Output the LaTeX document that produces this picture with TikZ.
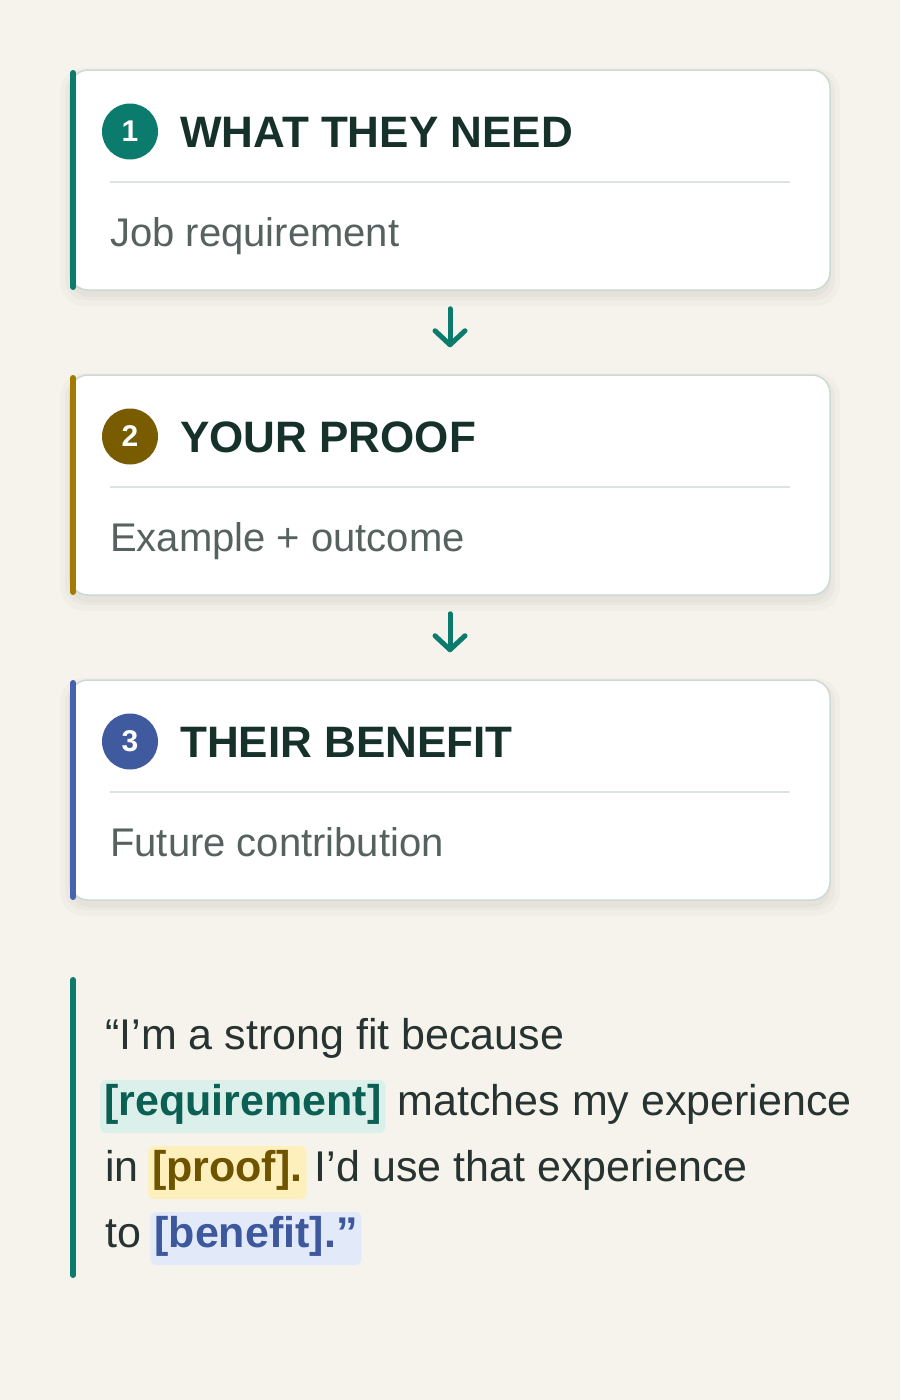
\documentclass[tikz,border=0pt]{standalone}
\usepackage{fontspec}
\setmainfont{Liberation Sans}
\usetikzlibrary{arrows.meta}
\definecolor{bgc}{HTML}{F6F3EC}
\definecolor{teal}{HTML}{0A7B6C}
\definecolor{goldbar}{HTML}{A27A04}
\definecolor{goldbadge}{HTML}{7A5C00}
\definecolor{bluebar}{HTML}{4663AD}
\definecolor{bluebadge}{HTML}{3F5A9E}
\definecolor{cardborder}{HTML}{CBDAD3}
\definecolor{divider}{HTML}{DDE3E0}
\definecolor{titlec}{HTML}{16302A}
\definecolor{bodyc}{HTML}{56625F}
\definecolor{quotec}{HTML}{263330}
\definecolor{reqfg}{HTML}{0B5F53}
\definecolor{reqbg}{HTML}{DCF0EB}
\definecolor{prooffg}{HTML}{6E5400}
\definecolor{proofbg}{HTML}{FDF0BC}
\definecolor{benfg}{HTML}{3D589D}
\definecolor{benbg}{HTML}{E2E9F8}
\tikzset{
  x=1pt,y=1pt,
  cardbox/.style={draw=cardborder,line width=1.5pt,fill=white,rounded corners=18pt,
    minimum width=760pt,minimum height=220pt,inner sep=0pt},
  shadowbox/.style={fill=black,rounded corners=20pt,minimum width=762pt,minimum height=222pt,inner sep=0pt,draw=none},
  badge/.style={circle,minimum size=56pt,inner sep=0pt,text=white,
    font=\fontsize{30}{34}\selectfont\bfseries},
  titletext/.style={anchor=base west,inner sep=0pt,text=titlec,font=\fontsize{44}{50}\selectfont\bfseries},
  bodytext/.style={anchor=base west,inner sep=0pt,text=bodyc,font=\fontsize{40}{46}\selectfont},
  quotetext/.style={anchor=base west,inner sep=0pt,text=quotec,font=\fontsize{43}{50}\selectfont},
  hl/.style={anchor=base west,rounded corners=6pt,inner xsep=4pt,inner ysep=7pt,
    text height=28pt,text depth=11pt,font=\fontsize{43}{50}\selectfont\bfseries},
  flowarrow/.style={draw=teal,line width=5pt,line cap=round,
    -{Straight Barb[length=14pt,width=30pt,round]}},
  sidebar/.style={line width=6pt,line cap=round},
}
\begin{document}
\begin{tikzpicture}
\fill[bgc] (0,0) rectangle (900,-1400);
\useasboundingbox (0,0) rectangle (900,-1400);

% shadows
\foreach \yy in {180,485,790}{
  \node[shadowbox,opacity=0.025] at (450,-\yy-6) {};
  \node[shadowbox,opacity=0.025,minimum width=770pt,minimum height=228pt] at (450,-\yy-6) {};
  \node[shadowbox,opacity=0.02,minimum width=780pt,minimum height=238pt,rounded corners=24pt] at (450,-\yy-7) {};
}

% cards
\node[cardbox] (card1) at (450,-180) {};
\node[cardbox] (card2) at (450,-485) {};
\node[cardbox] (card3) at (450,-790) {};

\draw[sidebar,teal] (73,-73) -- (73,-287);
\draw[sidebar,goldbar] (73,-378) -- (73,-592);
\draw[sidebar,bluebar] (73,-683) -- (73,-897);

% card 1
\node[badge,fill=teal] (b1) at (130,-131.5) {1};
\node[titletext] (t1) at (180,-147) {WHAT THEY NEED};
\draw[divider,line width=1.5pt] (110,-182) -- (790,-182);
\node[bodytext] (d1) at (110,-246) {Job requirement};

% card 2
\node[badge,fill=goldbadge] (b2) at (130,-436.5) {2};
\node[titletext] (t2) at (180,-452) {YOUR PROOF};
\draw[divider,line width=1.5pt] (110,-487) -- (790,-487);
\node[bodytext] (d2) at (110,-551) {Example + outcome};

% card 3
\node[badge,fill=bluebadge] (b3) at (130,-741.5) {3};
\node[titletext] (t3) at (180,-757) {THEIR BENEFIT};
\draw[divider,line width=1.5pt] (110,-792) -- (790,-792);
\node[bodytext] (d3) at (110,-856) {Future contribution};

% arrows
\draw[flowarrow,shorten <=18pt,shorten >=27pt] (card1.south) -- (card2.north);
\draw[flowarrow,shorten <=18pt,shorten >=27pt] (card2.south) -- (card3.north);

% quote
\draw[sidebar,teal] (73,-980) -- (73,-1275);
\node[quotetext] (q1) at (105,-1049) {“I’m a strong fit because};
\node[hl,fill=reqbg,text=reqfg] (q2a) at (100,-1115) {[requirement]};
\node[quotetext] (q2b) at ([xshift=12pt]q2a.base east) {matches my experience};
\node[quotetext] (q3a) at (105,-1181) {in};
\node[hl,fill=proofbg,text=prooffg] (q3b) at ([xshift=9pt]q3a.base east) {[proof].};
\node[quotetext] (q3c) at ([xshift=8pt]q3b.base east) {I’d use that experience};
\node[quotetext] (q4a) at (105,-1247) {to};
\node[hl,fill=benbg,text=benfg] (q4b) at ([xshift=9pt]q4a.base east) {[benefit].”};
\end{tikzpicture}
\end{document}
